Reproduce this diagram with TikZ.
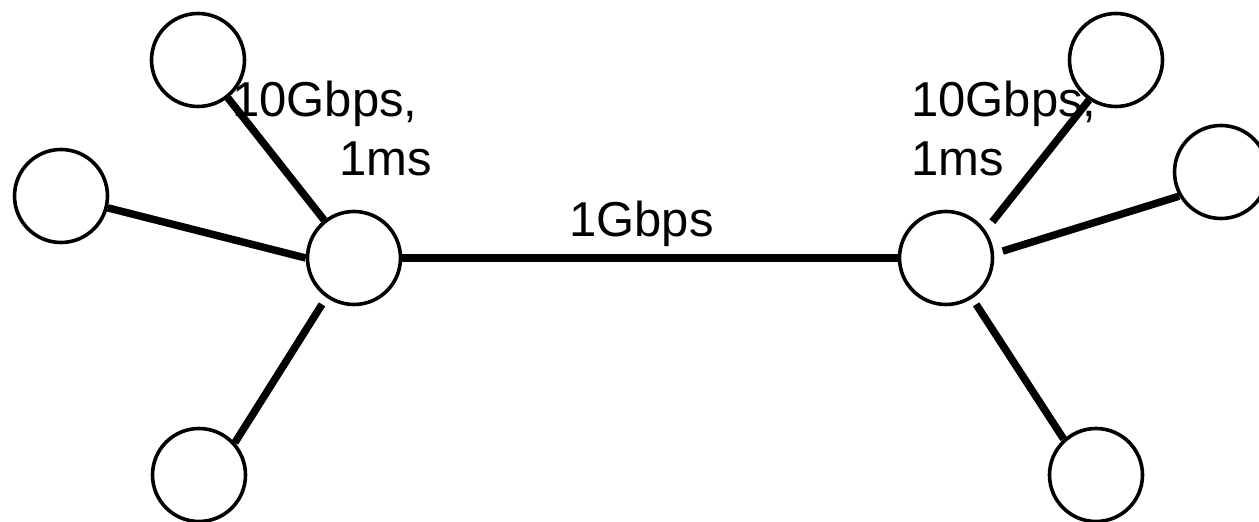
\documentclass[tikz,border=0pt]{standalone}
\usepackage{fontspec}
\setmainfont{Liberation Sans}
\begin{document}
\begin{tikzpicture}[x=1pt,y=1pt,
  vertex/.style={circle,draw,line width=3.6pt,minimum size=93pt,inner sep=0pt,fill=white},
  link/.style={line width=7.5pt},
  lbl/.style={font=\fontsize{49}{59}\selectfont,inner sep=0pt,anchor=base west,align=left}]
\useasboundingbox (0,0) rectangle (1259,522);
\node[vertex] (L1) at (198,462) {};
\node[vertex] (L2) at (61,326) {};
\node[vertex] (HL) at (354,264) {};
\node[vertex] (L3) at (199,47) {};
\node[vertex] (HR) at (946,264) {};
\node[vertex] (R1) at (1116,462) {};
\node[vertex] (R2) at (1221,350) {};
\node[vertex] (R3) at (1096,47) {};
\draw[link] (L1) -- (HL);
\draw[link] (L2) -- (HL.west);
\draw[link,shorten >=8pt] (L3.42) -- (HL.235);
\draw[link] (HL) -- (HR);
\draw[link,shorten >=11pt] (R1.236) -- (HR.35);
\draw[link,shorten >=9pt] (R2.210) -- (HR.5);
\draw[link,shorten <=7pt] (HR.-57) -- (R3.132);
\node[lbl] (tl) at (232,346) {10Gbps,\\\hspace*{107pt}1ms};
\node[lbl] (tr) at (911,346) {10Gbps,\\1ms};
\node[lbl] (tm) at (569,285) {1Gbps};
\end{tikzpicture}
\end{document}
